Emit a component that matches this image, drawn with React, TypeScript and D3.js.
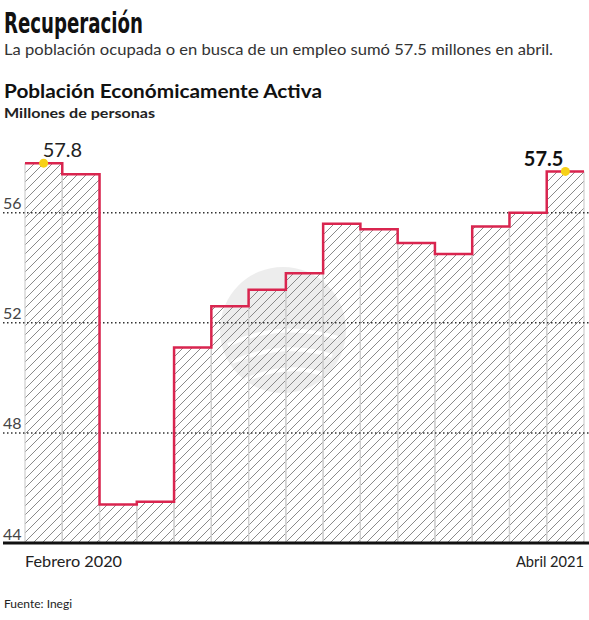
import React from "react";
import * as d3 from "d3";

const months = [
  "Feb 2020", "Mar 2020", "Abr 2020", "May 2020", "Jun 2020", "Jul 2020",
  "Ago 2020", "Sep 2020", "Oct 2020", "Nov 2020", "Dic 2020", "Ene 2021",
  "Feb 2021", "Mar 2021", "Abr 2021",
];
const pea = [
  57.8, 57.4, 45.4, 45.5, 51.1, 52.6, 53.2, 53.8, 55.6, 55.4, 54.9, 54.5,
  55.5, 56.0, 57.5,
];
const yTicks = [44, 48, 52, 56];
const xLabels = ["Febrero 2020", "Abril 2021"];

const W = 589;
const H = 620;
const font = "Lato, 'Open Sans', 'DejaVu Sans', sans-serif";

export default function App() {
  const x = d3.scaleBand<string>().domain(months).range([25, 584]).padding(0);
  const y = d3.scaleLinear().domain([44, 56]).range([543, 212.7]);
  const bw = x.bandwidth();
  const base = y(44);

  const pts: [number, number][] = months.map((m, i) => [x(m)!, pea[i]]);
  pts.push([x(months[months.length - 1])! + bw, pea[pea.length - 1]]);

  const line = d3
    .line<[number, number]>()
    .x((d) => d[0])
    .y((d) => y(d[1]))
    .curve(d3.curveStepAfter);
  const area = d3
    .area<[number, number]>()
    .x((d) => d[0])
    .y0(base)
    .y1((d) => y(d[1]))
    .curve(d3.curveStepAfter);

  const first = months[0];
  const last = months[months.length - 1];

  return (
    <svg
      width={W}
      height={H}
      style={{ position: "absolute", left: 0, top: 0, background: "#fff" }}
    >
      <defs>
        <pattern id="hatch" patternUnits="userSpaceOnUse" width={9} height={9}>
          <path
            d="M-2,2 l4,-4 M0,9 l9,-9 M7,11 l4,-4"
            stroke="#8a8a8a"
            strokeWidth={1}
          />
        </pattern>
      </defs>

      {/* titles */}
      <text
        x={4}
        y={33}
        fontFamily="'DejaVu Sans Condensed', 'Liberation Sans Narrow', 'DejaVu Sans', sans-serif"
        fontSize={28}
        fontWeight="bold"
        fill="#111"
        textLength={139}
        lengthAdjust="spacingAndGlyphs"
      >
        Recuperación
      </text>
      <text
        x={4}
        y={55}
        fontFamily={font}
        fontSize={16}
        fill="#333"
        textLength={549}
        lengthAdjust="spacingAndGlyphs"
      >
        La población ocupada o en busca de un empleo sumó 57.5 millones en abril.
      </text>
      <text
        x={4}
        y={98}
        fontFamily={font}
        fontSize={18}
        fontWeight="bold"
        fill="#111"
        textLength={318}
        lengthAdjust="spacingAndGlyphs"
      >
        Población Económicamente Activa
      </text>
      <text
        x={4}
        y={118}
        fontFamily={font}
        fontSize={14}
        fontWeight="bold"
        fill="#222"
        textLength={151}
        lengthAdjust="spacingAndGlyphs"
      >
        Millones de personas
      </text>

      {/* watermark */}
      <g opacity={0.7}>
        <circle cx={283} cy={330} r={63} fill="#e6e6e6" />
        <path
          d="M228,345 Q280,320 338,338 M232,362 Q285,340 332,356 M245,380 Q288,362 322,374"
          stroke="#fff"
          strokeWidth={4}
          fill="none"
        />
      </g>

      {/* hatched area */}
      <path d={area(pts)!} fill="url(#hatch)" />

      {/* column separators */}
      {months.map((m, i) => (
        <g key={m}>
          <line x1={x(m)!} x2={x(m)!} y1={base} y2={y(pea[i])} stroke="#cfcfcf" strokeWidth={1.2} />
          <line x1={x(m)! + bw} x2={x(m)! + bw} y1={base} y2={y(pea[i])} stroke="#cfcfcf" strokeWidth={1.2} />
        </g>
      ))}

      {/* gridlines */}
      {yTicks.slice(1).map((t) => (
        <line
          key={t}
          x1={3}
          x2={589}
          y1={y(t)}
          y2={y(t)}
          stroke="#333"
          strokeWidth={1.5}
          strokeDasharray="1.5,2.5"
        />
      ))}

      {/* step line */}
      <path d={line(pts)!} fill="none" stroke="#d9254f" strokeWidth={2.5} />

      {/* axis */}
      <line x1={3} x2={589} y1={base} y2={base} stroke="#111" strokeWidth={3} />

      {/* y tick labels */}
      {yTicks.map((t) => (
        <text
          key={t}
          x={3}
          y={y(t) - (t === 44 ? 3 : 4)}
          fontFamily={font}
          fontSize={16}
          fill="#444"
        >
          {t}
        </text>
      ))}

      {/* x labels */}
      <text
        x={x(first)!}
        y={567}
        fontFamily={font}
        fontSize={16}
        fill="#222"
        textLength={97}
        lengthAdjust="spacingAndGlyphs"
      >
        {xLabels[0]}
      </text>
      <text
        x={x(last)! + bw - 68}
        y={567}
        fontFamily={font}
        fontSize={16}
        fill="#222"
        textLength={68}
        lengthAdjust="spacingAndGlyphs"
      >
        {xLabels[1]}
      </text>

      {/* highlight points */}
      <circle cx={x(first)! + bw / 2} cy={y(pea[0])} r={4.5} fill="#f7d117" />
      <circle cx={x(last)! + bw / 2} cy={y(pea[pea.length - 1])} r={4.5} fill="#f7d117" />
      <text x={x(first)! + bw / 2 - 1} y={y(pea[0]) - 6} fontFamily={font} fontSize={20} fill="#222">
        {pea[0].toFixed(1)}
      </text>
      <text
        x={x(last)! + bw / 2 - 2}
        y={y(pea[pea.length - 1]) - 5}
        fontFamily={font}
        fontSize={20}
        fontWeight="bold"
        fill="#111"
        textAnchor="end"
      >
        {pea[pea.length - 1].toFixed(1)}
      </text>

      {/* source */}
      <text x={4} y={608} fontFamily={font} fontSize={12} fill="#222">
        Fuente: Inegi
      </text>
    </svg>
  );
}
